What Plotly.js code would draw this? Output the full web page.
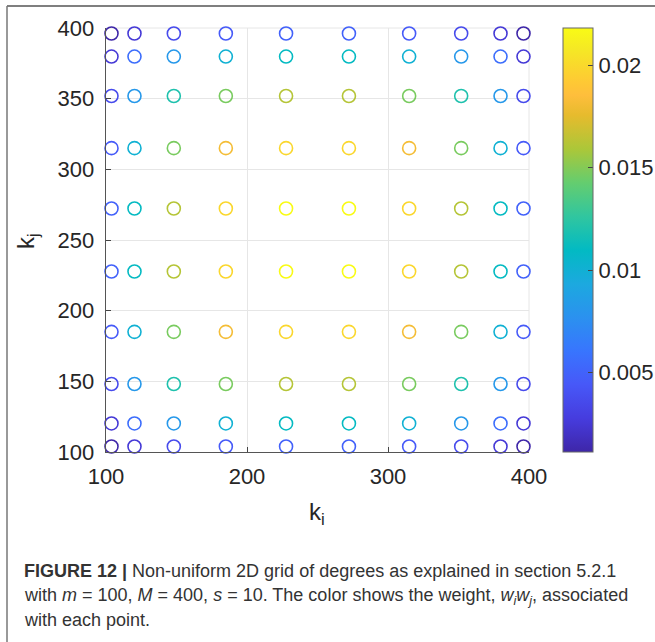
<!DOCTYPE html>
<html>
<head>
<meta charset="utf-8">
<script src="https://cdn.plot.ly/plotly-3.0.1.min.js"></script>
<style>
html,body{margin:0;padding:0;background:#fff;}
#chart{width:655px;height:642px;}
</style>
</head>
<body>
<div id="chart"></div>
<script>
// Non-uniform grid nodes (degrees), same for k_i and k_j
const kNodes = [103.9, 120.2, 148.1, 185.0, 227.7, 272.3, 315.0, 351.9, 379.8, 396.1];
// Weight w_i*w_j at each point: rows = k_j index, columns = k_i index
const weights = [
  [0.00111,0.00249,0.00365,0.00449,0.00493,0.00493,0.00449,0.00365,0.00249,0.00111],
  [0.00249,0.00558,0.00819,0.01006,0.01104,0.01104,0.01006,0.00819,0.00558,0.00249],
  [0.00365,0.00819,0.01200,0.01475,0.01619,0.01619,0.01475,0.01200,0.00819,0.00365],
  [0.00449,0.01006,0.01475,0.01813,0.01989,0.01989,0.01813,0.01475,0.01006,0.00449],
  [0.00493,0.01104,0.01619,0.01989,0.02183,0.02183,0.01989,0.01619,0.01104,0.00493],
  [0.00493,0.01104,0.01619,0.01989,0.02183,0.02183,0.01989,0.01619,0.01104,0.00493],
  [0.00449,0.01006,0.01475,0.01813,0.01989,0.01989,0.01813,0.01475,0.01006,0.00449],
  [0.00365,0.00819,0.01200,0.01475,0.01619,0.01619,0.01475,0.01200,0.00819,0.00365],
  [0.00249,0.00558,0.00819,0.01006,0.01104,0.01104,0.01006,0.00819,0.00558,0.00249],
  [0.00111,0.00249,0.00365,0.00449,0.00493,0.00493,0.00449,0.00365,0.00249,0.00111]
];
const xTicks = [100, 200, 300, 400];
const yTicks = [100, 150, 200, 250, 300, 350, 400];
const colorTicks = [0.005, 0.01, 0.015, 0.02];
const colorTickText = ['0.005', '0.01', '0.015', '0.02'];
const xTitle = 'k<sub>i</sub>';
const yTitle = 'k<sub>j</sub>';
const captionLines = [
  '<b>FIGURE 12 |</b> Non-uniform 2D grid of degrees as explained in section 5.2.1',
  'with <i>m</i> = 100, <i>M</i> = 400, <i>s</i> = 10. The color shows the weight, <i>w<sub>i</sub>w<sub>j</sub></i>, associated',
  'with each point.'
];

const parula = [
  [0.000,'rgb(62,38,168)'],
  [0.079,'rgb(70,60,222)'],
  [0.159,'rgb(71,88,248)'],
  [0.238,'rgb(56,117,254)'],
  [0.317,'rgb(43,145,239)'],
  [0.397,'rgb(28,169,223)'],
  [0.476,'rgb(2,186,195)'],
  [0.556,'rgb(49,198,159)'],
  [0.635,'rgb(100,205,111)'],
  [0.714,'rgb(171,199,57)'],
  [0.794,'rgb(230,187,45)'],
  [0.841,'rgb(254,190,60)'],
  [0.873,'rgb(254,201,52)'],
  [0.952,'rgb(245,233,36)'],
  [1.000,'rgb(249,251,21)']
];

const xs = [], ys = [], cs = [];
for (let j = 0; j < kNodes.length; j++) {
  for (let i = 0; i < kNodes.length; i++) {
    xs.push(kNodes[i]); ys.push(kNodes[j]); cs.push(weights[j][i]);
  }
}

const L = 106, R = 529, T = 28, B = 452, W = 655, H = 642;
const px = v => (v - L) / (R - L);
const py = v => (B - v) / (B - T);

const FAM = 'Liberation Sans, Arial, sans-serif';
const tickFont = {family: FAM, size: 22, color: '#262626'};
const capFont = {family: FAM, size: 18, color: '#333'};

const trace = {
  type: 'scatter', mode: 'markers', x: xs, y: ys, cliponaxis: false,
  marker: {
    symbol: 'circle-open', size: 13, color: cs, colorscale: parula,
    line: {width: 1.6},
    showscale: true,
    colorbar: {
      x: px(563), xanchor: 'left', xpad: 0, y: 0.5, yanchor: 'middle', ypad: 0,
      len: 1, lenmode: 'fraction', thickness: 30, thicknessmode: 'pixels',
      outlinewidth: 1, outlinecolor: '#666',
      ticks: 'inside', ticklen: 5, tickcolor: '#444', tickwidth: 1,
      tickvals: colorTicks, ticktext: colorTickText, tickfont: tickFont
    }
  },
  hoverinfo: 'x+y'
};

const ann = [
  {text: xTitle, x: px(317), y: py(513), xref: 'paper', yref: 'paper', xanchor: 'center', yanchor: 'middle', showarrow: false,
   font: {family: FAM, size: 24, color: '#262626'}},
  {text: yTitle, x: px(27), y: py(241), xref: 'paper', yref: 'paper', xanchor: 'center', yanchor: 'middle', textangle: -90, showarrow: false,
   font: {family: FAM, size: 24, color: '#262626'}}
];
const lineY = [571, 596, 620];
captionLines.forEach((t, k) => {
  ann.push({text: t, x: px(22), y: py(lineY[k]), xref: 'paper', yref: 'paper', xanchor: 'left', yanchor: 'middle', align: 'left', showarrow: false, font: capFont});
});

const layout = {
  width: W, height: H,
  margin: {l: L, r: W - R, t: T, b: H - B, pad: 0, autoexpand: false},
  paper_bgcolor: '#fff', plot_bgcolor: '#fff',
  showlegend: false,
  xaxis: {
    range: [100, 400], tickvals: xTicks, ticks: 'inside', ticklen: 5, tickcolor: '#444',
    showgrid: true, gridcolor: '#e6e6e6', gridwidth: 1, zeroline: false,
    showline: true, linecolor: '#555', linewidth: 1.3, mirror: false,
    tickfont: tickFont, ticklabelstandoff: 4, automargin: false
  },
  yaxis: {
    range: [100, 400], tickvals: yTicks, ticks: 'inside', ticklen: 5, tickcolor: '#444',
    showgrid: true, gridcolor: '#e6e6e6', gridwidth: 1, zeroline: false,
    showline: true, linecolor: '#555', linewidth: 1.3, mirror: false,
    tickfont: tickFont, ticklabelstandoff: 6, automargin: false
  },
  shapes: [
    {type: 'line', xref: 'paper', yref: 'paper', x0: px(7), x1: px(660), y0: py(6), y1: py(6), line: {color: '#555', width: 1.5}},
    {type: 'line', xref: 'paper', yref: 'paper', x0: px(7), x1: px(7), y0: py(6), y1: py(650), line: {color: '#777', width: 1.5}},
    {type: 'line', xref: 'paper', yref: 'paper', x0: 0, x1: 1, y0: 1, y1: 1, line: {color: '#e6e6e6', width: 1}, layer: 'below'},
    {type: 'line', xref: 'paper', yref: 'paper', x0: 1, x1: 1, y0: 0, y1: 1, line: {color: '#e6e6e6', width: 1}, layer: 'below'}
  ],
  annotations: ann
};

Plotly.newPlot('chart', [trace], layout, {displayModeBar: false, staticPlot: true});
</script>
</body>
</html>
